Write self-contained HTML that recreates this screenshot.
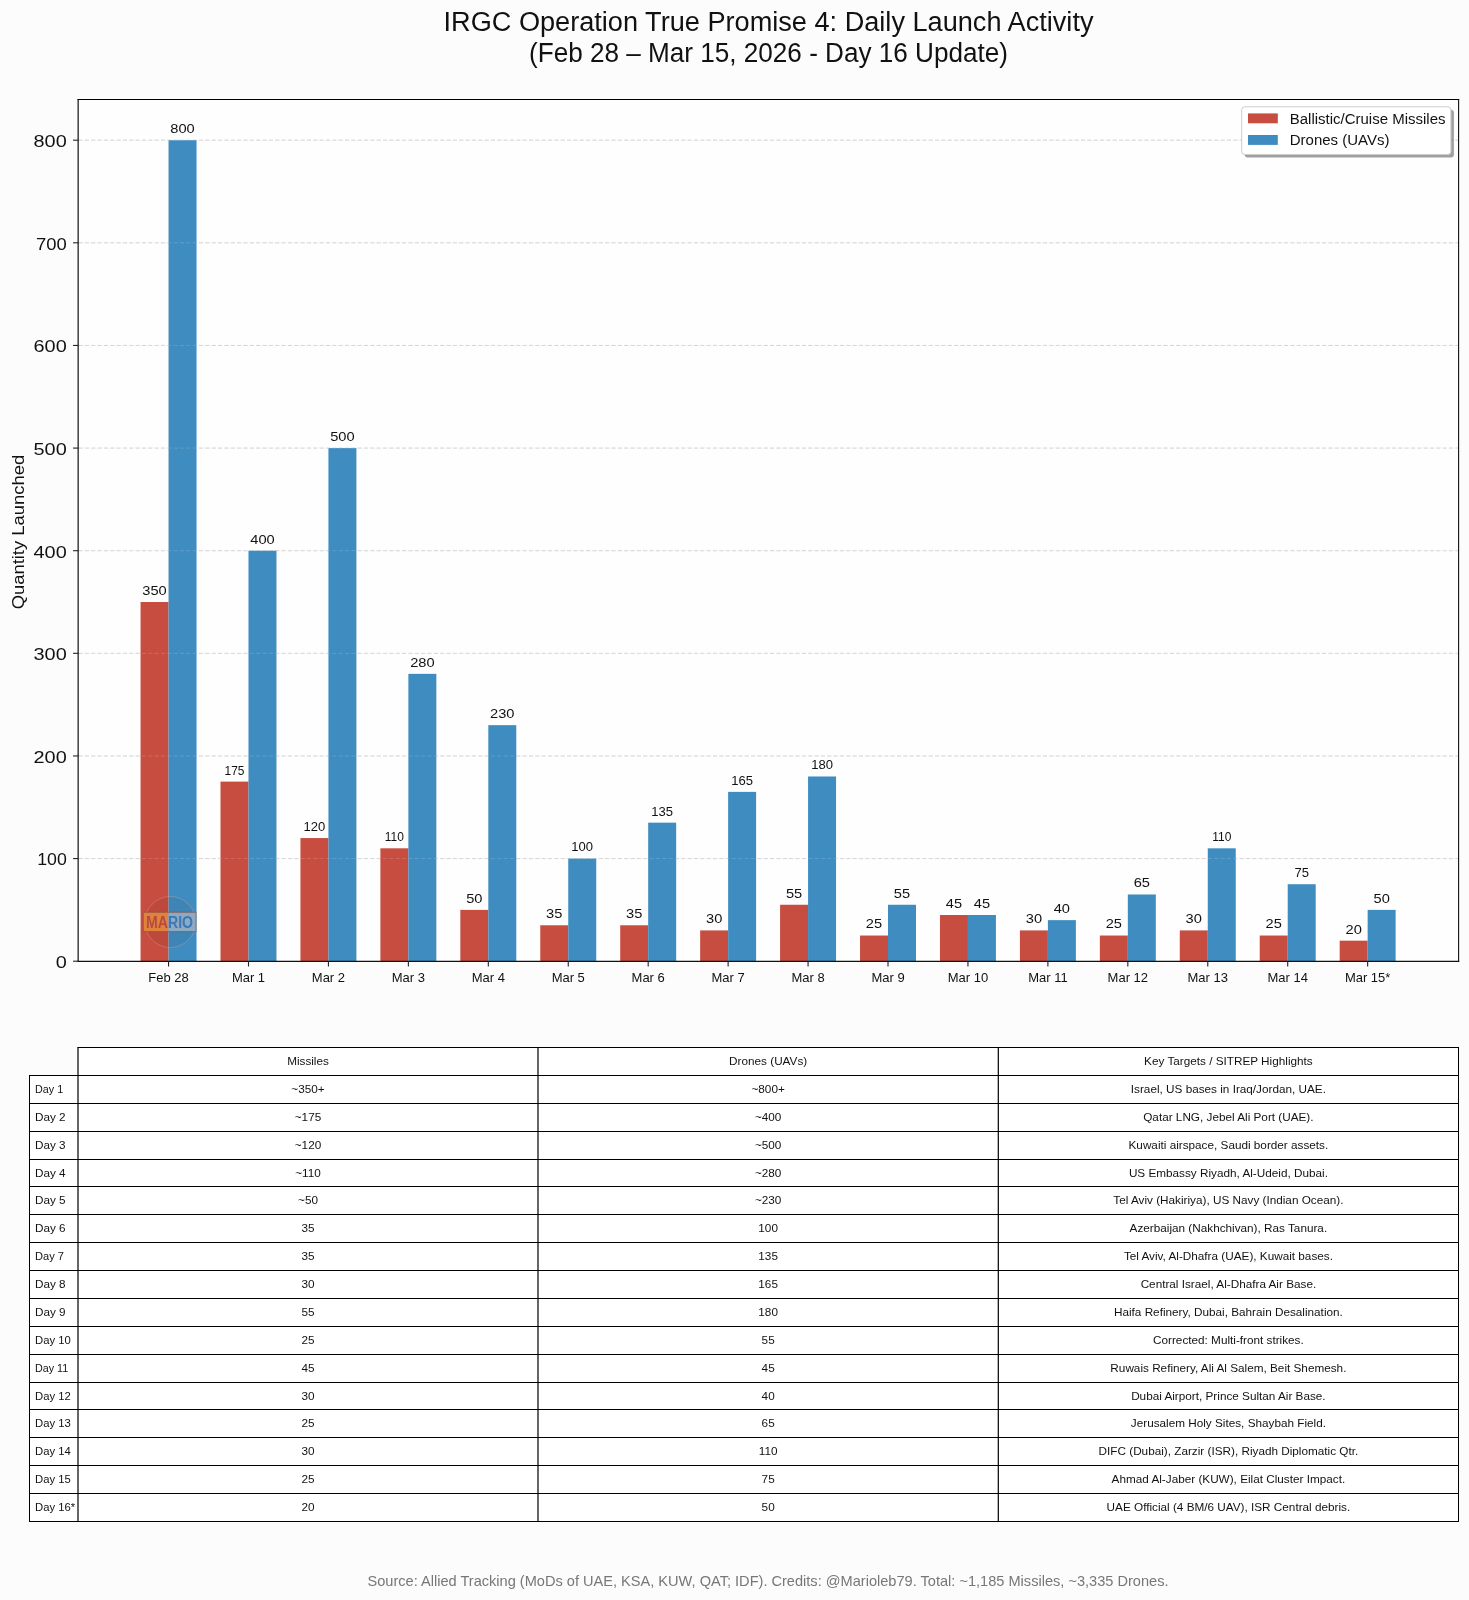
<!DOCTYPE html>
<html><head><meta charset="utf-8"><title>IRGC Operation True Promise 4: Daily Launch Activity</title><style>html,body{margin:0;padding:0;background:#fcfcfc;overflow:hidden;}svg{display:block;will-change:transform;}</style></head><body>
<svg width="1469" height="1600" viewBox="0 0 1469 1600" font-family='"Liberation Sans", "DejaVu Sans", sans-serif'>
<rect x="0" y="0" width="1469" height="1600" fill="#fcfcfc"/>
<rect x="78.35" y="99.4" width="1380.25" height="861.8000000000001" fill="#fefefe"/>
<line x1="78.44" x2="1458.6" y1="858.58" y2="858.58" stroke="#b8b8b8" stroke-opacity="0.68" stroke-width="1" stroke-dasharray="4.2,2.145"/>
<line x1="78.44" x2="1458.6" y1="755.95" y2="755.95" stroke="#b8b8b8" stroke-opacity="0.68" stroke-width="1" stroke-dasharray="4.2,2.145"/>
<line x1="78.44" x2="1458.6" y1="653.33" y2="653.33" stroke="#b8b8b8" stroke-opacity="0.68" stroke-width="1" stroke-dasharray="4.2,2.145"/>
<line x1="78.44" x2="1458.6" y1="550.70" y2="550.70" stroke="#b8b8b8" stroke-opacity="0.68" stroke-width="1" stroke-dasharray="4.2,2.145"/>
<line x1="78.44" x2="1458.6" y1="448.08" y2="448.08" stroke="#b8b8b8" stroke-opacity="0.68" stroke-width="1" stroke-dasharray="4.2,2.145"/>
<line x1="78.44" x2="1458.6" y1="345.45" y2="345.45" stroke="#b8b8b8" stroke-opacity="0.68" stroke-width="1" stroke-dasharray="4.2,2.145"/>
<line x1="78.44" x2="1458.6" y1="242.82" y2="242.82" stroke="#b8b8b8" stroke-opacity="0.68" stroke-width="1" stroke-dasharray="4.2,2.145"/>
<line x1="78.44" x2="1458.6" y1="140.20" y2="140.20" stroke="#b8b8b8" stroke-opacity="0.68" stroke-width="1" stroke-dasharray="4.2,2.145"/>
<rect x="140.57" y="602.01" width="27.98" height="359.19" fill="#c64d40"/>
<rect x="168.55" y="140.20" width="27.98" height="821.00" fill="#3e8cc0"/>
<rect x="220.51" y="781.61" width="27.98" height="179.59" fill="#c64d40"/>
<rect x="248.49" y="550.70" width="27.98" height="410.50" fill="#3e8cc0"/>
<rect x="300.45" y="838.05" width="27.98" height="123.15" fill="#c64d40"/>
<rect x="328.43" y="448.08" width="27.98" height="513.12" fill="#3e8cc0"/>
<rect x="380.39" y="848.31" width="27.98" height="112.89" fill="#c64d40"/>
<rect x="408.37" y="673.85" width="27.98" height="287.35" fill="#3e8cc0"/>
<rect x="460.33" y="909.89" width="27.98" height="51.31" fill="#c64d40"/>
<rect x="488.31" y="725.16" width="27.98" height="236.04" fill="#3e8cc0"/>
<rect x="540.27" y="925.28" width="27.98" height="35.92" fill="#c64d40"/>
<rect x="568.25" y="858.58" width="27.98" height="102.63" fill="#3e8cc0"/>
<rect x="620.21" y="925.28" width="27.98" height="35.92" fill="#c64d40"/>
<rect x="648.19" y="822.66" width="27.98" height="138.54" fill="#3e8cc0"/>
<rect x="700.15" y="930.41" width="27.98" height="30.79" fill="#c64d40"/>
<rect x="728.13" y="791.87" width="27.98" height="169.33" fill="#3e8cc0"/>
<rect x="780.09" y="904.76" width="27.98" height="56.44" fill="#c64d40"/>
<rect x="808.07" y="776.48" width="27.98" height="184.73" fill="#3e8cc0"/>
<rect x="860.03" y="935.54" width="27.98" height="25.66" fill="#c64d40"/>
<rect x="888.01" y="904.76" width="27.98" height="56.44" fill="#3e8cc0"/>
<rect x="939.97" y="915.02" width="27.98" height="46.18" fill="#c64d40"/>
<rect x="967.95" y="915.02" width="27.98" height="46.18" fill="#3e8cc0"/>
<rect x="1019.91" y="930.41" width="27.98" height="30.79" fill="#c64d40"/>
<rect x="1047.89" y="920.15" width="27.98" height="41.05" fill="#3e8cc0"/>
<rect x="1099.85" y="935.54" width="27.98" height="25.66" fill="#c64d40"/>
<rect x="1127.83" y="894.49" width="27.98" height="66.71" fill="#3e8cc0"/>
<rect x="1179.79" y="930.41" width="27.98" height="30.79" fill="#c64d40"/>
<rect x="1207.77" y="848.31" width="27.98" height="112.89" fill="#3e8cc0"/>
<rect x="1259.73" y="935.54" width="27.98" height="25.66" fill="#c64d40"/>
<rect x="1287.71" y="884.23" width="27.98" height="76.97" fill="#3e8cc0"/>
<rect x="1339.67" y="940.68" width="27.98" height="20.53" fill="#c64d40"/>
<rect x="1367.65" y="909.89" width="27.98" height="51.31" fill="#3e8cc0"/>
<line x1="78.44" x2="1458.6" y1="858.58" y2="858.58" stroke="#fff" stroke-opacity="0.16" stroke-width="1" stroke-dasharray="4.2,2.145"/>
<line x1="78.44" x2="1458.6" y1="755.95" y2="755.95" stroke="#fff" stroke-opacity="0.16" stroke-width="1" stroke-dasharray="4.2,2.145"/>
<line x1="78.44" x2="1458.6" y1="653.33" y2="653.33" stroke="#fff" stroke-opacity="0.16" stroke-width="1" stroke-dasharray="4.2,2.145"/>
<line x1="78.44" x2="1458.6" y1="550.70" y2="550.70" stroke="#fff" stroke-opacity="0.16" stroke-width="1" stroke-dasharray="4.2,2.145"/>
<line x1="78.44" x2="1458.6" y1="448.08" y2="448.08" stroke="#fff" stroke-opacity="0.16" stroke-width="1" stroke-dasharray="4.2,2.145"/>
<line x1="78.44" x2="1458.6" y1="345.45" y2="345.45" stroke="#fff" stroke-opacity="0.16" stroke-width="1" stroke-dasharray="4.2,2.145"/>
<line x1="78.44" x2="1458.6" y1="242.82" y2="242.82" stroke="#fff" stroke-opacity="0.16" stroke-width="1" stroke-dasharray="4.2,2.145"/>
<line x1="78.44" x2="1458.6" y1="140.20" y2="140.20" stroke="#fff" stroke-opacity="0.16" stroke-width="1" stroke-dasharray="4.2,2.145"/>
<g><circle cx="170.3" cy="922" r="25.5" fill="#402020" fill-opacity="0.07" stroke="#e8a0a0" stroke-opacity="0.35" stroke-width="1"/><rect x="143.3" y="912.3" width="25.0" height="19.3" fill="#e0823c"/><rect x="168.3" y="912.3" width="27.7" height="19.3" fill="#8ea9c2"/><rect x="143.3" y="912.3" width="52.7" height="19.3" fill="none" stroke="#8a4a3a" stroke-opacity="0.6" stroke-width="1"/></g>
<text x="146.1" y="927.7" font-size="16" font-weight="bold" fill="#b84a40" textLength="47" lengthAdjust="spacingAndGlyphs">MA<tspan fill="#3a78b8">RIO</tspan></text>
<text x="154.56" y="594.91" font-size="12.9" text-anchor="middle" fill="#111" textLength="24.43" lengthAdjust="spacingAndGlyphs">350</text>
<text x="182.54" y="133.10" font-size="12.9" text-anchor="middle" fill="#111" textLength="24.43" lengthAdjust="spacingAndGlyphs">800</text>
<text x="234.50" y="774.51" font-size="12.9" text-anchor="middle" fill="#111" textLength="19.95" lengthAdjust="spacingAndGlyphs">175</text>
<text x="262.48" y="543.60" font-size="12.9" text-anchor="middle" fill="#111" textLength="24.43" lengthAdjust="spacingAndGlyphs">400</text>
<text x="314.44" y="830.95" font-size="12.9" text-anchor="middle" fill="#111" textLength="21.76" lengthAdjust="spacingAndGlyphs">120</text>
<text x="342.42" y="440.98" font-size="12.9" text-anchor="middle" fill="#111" textLength="24.43" lengthAdjust="spacingAndGlyphs">500</text>
<text x="394.38" y="841.21" font-size="12.9" text-anchor="middle" fill="#111" textLength="19.09" lengthAdjust="spacingAndGlyphs">110</text>
<text x="422.36" y="666.75" font-size="12.9" text-anchor="middle" fill="#111" textLength="24.43" lengthAdjust="spacingAndGlyphs">280</text>
<text x="474.32" y="902.79" font-size="12.9" text-anchor="middle" fill="#111" textLength="16.28" lengthAdjust="spacingAndGlyphs">50</text>
<text x="502.30" y="718.06" font-size="12.9" text-anchor="middle" fill="#111" textLength="24.43" lengthAdjust="spacingAndGlyphs">230</text>
<text x="554.26" y="918.18" font-size="12.9" text-anchor="middle" fill="#111" textLength="16.28" lengthAdjust="spacingAndGlyphs">35</text>
<text x="582.24" y="851.48" font-size="12.9" text-anchor="middle" fill="#111" textLength="21.76" lengthAdjust="spacingAndGlyphs">100</text>
<text x="634.20" y="918.18" font-size="12.9" text-anchor="middle" fill="#111" textLength="16.28" lengthAdjust="spacingAndGlyphs">35</text>
<text x="662.18" y="815.56" font-size="12.9" text-anchor="middle" fill="#111" textLength="21.76" lengthAdjust="spacingAndGlyphs">135</text>
<text x="714.14" y="923.31" font-size="12.9" text-anchor="middle" fill="#111" textLength="16.28" lengthAdjust="spacingAndGlyphs">30</text>
<text x="742.12" y="784.77" font-size="12.9" text-anchor="middle" fill="#111" textLength="21.76" lengthAdjust="spacingAndGlyphs">165</text>
<text x="794.08" y="897.66" font-size="12.9" text-anchor="middle" fill="#111" textLength="16.28" lengthAdjust="spacingAndGlyphs">55</text>
<text x="822.06" y="769.38" font-size="12.9" text-anchor="middle" fill="#111" textLength="21.76" lengthAdjust="spacingAndGlyphs">180</text>
<text x="874.02" y="928.44" font-size="12.9" text-anchor="middle" fill="#111" textLength="16.28" lengthAdjust="spacingAndGlyphs">25</text>
<text x="902.00" y="897.66" font-size="12.9" text-anchor="middle" fill="#111" textLength="16.28" lengthAdjust="spacingAndGlyphs">55</text>
<text x="953.96" y="907.92" font-size="12.9" text-anchor="middle" fill="#111" textLength="16.28" lengthAdjust="spacingAndGlyphs">45</text>
<text x="981.94" y="907.92" font-size="12.9" text-anchor="middle" fill="#111" textLength="16.28" lengthAdjust="spacingAndGlyphs">45</text>
<text x="1033.90" y="923.31" font-size="12.9" text-anchor="middle" fill="#111" textLength="16.28" lengthAdjust="spacingAndGlyphs">30</text>
<text x="1061.88" y="913.05" font-size="12.9" text-anchor="middle" fill="#111" textLength="16.28" lengthAdjust="spacingAndGlyphs">40</text>
<text x="1113.84" y="928.44" font-size="12.9" text-anchor="middle" fill="#111" textLength="16.28" lengthAdjust="spacingAndGlyphs">25</text>
<text x="1141.82" y="887.39" font-size="12.9" text-anchor="middle" fill="#111" textLength="16.28" lengthAdjust="spacingAndGlyphs">65</text>
<text x="1193.78" y="923.31" font-size="12.9" text-anchor="middle" fill="#111" textLength="16.28" lengthAdjust="spacingAndGlyphs">30</text>
<text x="1221.76" y="841.21" font-size="12.9" text-anchor="middle" fill="#111" textLength="19.09" lengthAdjust="spacingAndGlyphs">110</text>
<text x="1273.72" y="928.44" font-size="12.9" text-anchor="middle" fill="#111" textLength="16.28" lengthAdjust="spacingAndGlyphs">25</text>
<text x="1301.70" y="877.13" font-size="12.9" text-anchor="middle" fill="#111" textLength="14.48" lengthAdjust="spacingAndGlyphs">75</text>
<text x="1353.66" y="933.58" font-size="12.9" text-anchor="middle" fill="#111" textLength="16.28" lengthAdjust="spacingAndGlyphs">20</text>
<text x="1381.64" y="902.79" font-size="12.9" text-anchor="middle" fill="#111" textLength="16.28" lengthAdjust="spacingAndGlyphs">50</text>
<path d="M77.6,99.5H1459.2" stroke="#000" stroke-width="1" fill="none"/>
<path d="M77.6,961.3H1459.2" stroke="#111" stroke-width="1.2" fill="none"/>
<path d="M78.15,99V961.9" stroke="#111" stroke-width="1.2" fill="none"/>
<path d="M1458.6,99V961.9" stroke="#111" stroke-width="1.1" fill="none"/>
<line x1="73.05" x2="78.35" y1="961.20" y2="961.20" stroke="#222" stroke-width="1.1"/>
<text x="66.75" y="968.10" font-size="16.3" text-anchor="end" fill="#111" textLength="11.06" lengthAdjust="spacingAndGlyphs">0</text>
<line x1="73.05" x2="78.35" y1="858.58" y2="858.58" stroke="#222" stroke-width="1.1"/>
<text x="66.75" y="865.48" font-size="16.3" text-anchor="end" fill="#111" textLength="29.55" lengthAdjust="spacingAndGlyphs">100</text>
<line x1="73.05" x2="78.35" y1="755.95" y2="755.95" stroke="#222" stroke-width="1.1"/>
<text x="66.75" y="762.85" font-size="16.3" text-anchor="end" fill="#111" textLength="33.18" lengthAdjust="spacingAndGlyphs">200</text>
<line x1="73.05" x2="78.35" y1="653.33" y2="653.33" stroke="#222" stroke-width="1.1"/>
<text x="66.75" y="660.23" font-size="16.3" text-anchor="end" fill="#111" textLength="33.18" lengthAdjust="spacingAndGlyphs">300</text>
<line x1="73.05" x2="78.35" y1="550.70" y2="550.70" stroke="#222" stroke-width="1.1"/>
<text x="66.75" y="557.60" font-size="16.3" text-anchor="end" fill="#111" textLength="33.18" lengthAdjust="spacingAndGlyphs">400</text>
<line x1="73.05" x2="78.35" y1="448.08" y2="448.08" stroke="#222" stroke-width="1.1"/>
<text x="66.75" y="454.98" font-size="16.3" text-anchor="end" fill="#111" textLength="33.18" lengthAdjust="spacingAndGlyphs">500</text>
<line x1="73.05" x2="78.35" y1="345.45" y2="345.45" stroke="#222" stroke-width="1.1"/>
<text x="66.75" y="352.35" font-size="16.3" text-anchor="end" fill="#111" textLength="33.18" lengthAdjust="spacingAndGlyphs">600</text>
<line x1="73.05" x2="78.35" y1="242.82" y2="242.82" stroke="#222" stroke-width="1.1"/>
<text x="66.75" y="249.72" font-size="16.3" text-anchor="end" fill="#111" textLength="30.73" lengthAdjust="spacingAndGlyphs">700</text>
<line x1="73.05" x2="78.35" y1="140.20" y2="140.20" stroke="#222" stroke-width="1.1"/>
<text x="66.75" y="147.10" font-size="16.3" text-anchor="end" fill="#111" textLength="33.18" lengthAdjust="spacingAndGlyphs">800</text>
<line x1="168.55" x2="168.55" y1="961.2" y2="966.5" stroke="#222" stroke-width="1.1"/>
<text x="168.55" y="981.8" font-size="13.5" text-anchor="middle" fill="#111" textLength="40.47" lengthAdjust="spacingAndGlyphs">Feb 28</text>
<line x1="248.49" x2="248.49" y1="961.2" y2="966.5" stroke="#222" stroke-width="1.1"/>
<text x="248.49" y="981.8" font-size="13.5" text-anchor="middle" fill="#111" textLength="33.23" lengthAdjust="spacingAndGlyphs">Mar 1</text>
<line x1="328.43" x2="328.43" y1="961.2" y2="966.5" stroke="#222" stroke-width="1.1"/>
<text x="328.43" y="981.8" font-size="13.5" text-anchor="middle" fill="#111" textLength="33.23" lengthAdjust="spacingAndGlyphs">Mar 2</text>
<line x1="408.37" x2="408.37" y1="961.2" y2="966.5" stroke="#222" stroke-width="1.1"/>
<text x="408.37" y="981.8" font-size="13.5" text-anchor="middle" fill="#111" textLength="33.23" lengthAdjust="spacingAndGlyphs">Mar 3</text>
<line x1="488.31" x2="488.31" y1="961.2" y2="966.5" stroke="#222" stroke-width="1.1"/>
<text x="488.31" y="981.8" font-size="13.5" text-anchor="middle" fill="#111" textLength="33.23" lengthAdjust="spacingAndGlyphs">Mar 4</text>
<line x1="568.25" x2="568.25" y1="961.2" y2="966.5" stroke="#222" stroke-width="1.1"/>
<text x="568.25" y="981.8" font-size="13.5" text-anchor="middle" fill="#111" textLength="33.23" lengthAdjust="spacingAndGlyphs">Mar 5</text>
<line x1="648.19" x2="648.19" y1="961.2" y2="966.5" stroke="#222" stroke-width="1.1"/>
<text x="648.19" y="981.8" font-size="13.5" text-anchor="middle" fill="#111" textLength="33.23" lengthAdjust="spacingAndGlyphs">Mar 6</text>
<line x1="728.13" x2="728.13" y1="961.2" y2="966.5" stroke="#222" stroke-width="1.1"/>
<text x="728.13" y="981.8" font-size="13.5" text-anchor="middle" fill="#111" textLength="33.23" lengthAdjust="spacingAndGlyphs">Mar 7</text>
<line x1="808.07" x2="808.07" y1="961.2" y2="966.5" stroke="#222" stroke-width="1.1"/>
<text x="808.07" y="981.8" font-size="13.5" text-anchor="middle" fill="#111" textLength="33.23" lengthAdjust="spacingAndGlyphs">Mar 8</text>
<line x1="888.01" x2="888.01" y1="961.2" y2="966.5" stroke="#222" stroke-width="1.1"/>
<text x="888.01" y="981.8" font-size="13.5" text-anchor="middle" fill="#111" textLength="33.23" lengthAdjust="spacingAndGlyphs">Mar 9</text>
<line x1="967.95" x2="967.95" y1="961.2" y2="966.5" stroke="#222" stroke-width="1.1"/>
<text x="967.95" y="981.8" font-size="13.5" text-anchor="middle" fill="#111" textLength="40.46" lengthAdjust="spacingAndGlyphs">Mar 10</text>
<line x1="1047.89" x2="1047.89" y1="961.2" y2="966.5" stroke="#222" stroke-width="1.1"/>
<text x="1047.89" y="981.8" font-size="13.5" text-anchor="middle" fill="#111" textLength="39.50" lengthAdjust="spacingAndGlyphs">Mar 11</text>
<line x1="1127.83" x2="1127.83" y1="961.2" y2="966.5" stroke="#222" stroke-width="1.1"/>
<text x="1127.83" y="981.8" font-size="13.5" text-anchor="middle" fill="#111" textLength="40.46" lengthAdjust="spacingAndGlyphs">Mar 12</text>
<line x1="1207.77" x2="1207.77" y1="961.2" y2="966.5" stroke="#222" stroke-width="1.1"/>
<text x="1207.77" y="981.8" font-size="13.5" text-anchor="middle" fill="#111" textLength="40.46" lengthAdjust="spacingAndGlyphs">Mar 13</text>
<line x1="1287.71" x2="1287.71" y1="961.2" y2="966.5" stroke="#222" stroke-width="1.1"/>
<text x="1287.71" y="981.8" font-size="13.5" text-anchor="middle" fill="#111" textLength="40.46" lengthAdjust="spacingAndGlyphs">Mar 14</text>
<line x1="1367.65" x2="1367.65" y1="961.2" y2="966.5" stroke="#222" stroke-width="1.1"/>
<text x="1367.65" y="981.8" font-size="13.5" text-anchor="middle" fill="#111" textLength="45.52" lengthAdjust="spacingAndGlyphs">Mar 15*</text>
<text transform="translate(24.2,532.1) rotate(-90)" font-size="17" text-anchor="middle" fill="#111" textLength="154.5" lengthAdjust="spacingAndGlyphs">Quantity Launched</text>
<text x="768.5" y="31" font-size="26.8" text-anchor="middle" fill="#111" textLength="650" lengthAdjust="spacingAndGlyphs">IRGC Operation True Promise 4: Daily Launch Activity</text>
<text x="768.5" y="62" font-size="26.8" text-anchor="middle" fill="#111" textLength="479" lengthAdjust="spacingAndGlyphs">(Feb 28 – Mar 15, 2026 - Day 16 Update)</text>
<rect x="1244.7" y="109.8" width="209.20000000000005" height="47.7" rx="3" fill="#777" fill-opacity="0.7"/>
<rect x="1241.7" y="106.8" width="209.20000000000005" height="47.7" rx="3" fill="#fff" stroke="#ccc" stroke-width="1"/>
<rect x="1248" y="113.4" width="29.8" height="9.9" fill="#c64d40"/>
<rect x="1248" y="135" width="29.8" height="9.9" fill="#3e8cc0"/>
<text x="1289.8" y="123.5" font-size="14" fill="#111" textLength="155.65" lengthAdjust="spacingAndGlyphs">Ballistic/Cruise Missiles</text>
<text x="1289.8" y="144.9" font-size="14" fill="#111" textLength="99.61" lengthAdjust="spacingAndGlyphs">Drones (UAVs)</text>
<rect x="78.0" y="1047.5" width="1380.5" height="28.0" fill="#fff"/>
<rect x="29.5" y="1075.5" width="1429.0" height="446.0" fill="#fff"/>
<path d="M77.4,1047.5H1459.0M29.0,1075.5H1459.0M29.0,1103.5H1459.0M29.0,1131.5H1459.0M29.0,1159.5H1459.0M29.0,1186.5H1459.0M29.0,1214.5H1459.0M29.0,1242.5H1459.0M29.0,1270.5H1459.0M29.0,1298.5H1459.0M29.0,1326.5H1459.0M29.0,1354.5H1459.0M29.0,1382.5H1459.0M29.0,1409.5H1459.0M29.0,1437.5H1459.0M29.0,1465.5H1459.0M29.0,1493.5H1459.0M29.0,1521.5H1459.0" stroke="#000" stroke-width="1" fill="none"/>
<path d="M29.5,1075.5V1521.5M1458.5,1047.5V1521.5" stroke="#000" stroke-width="1" fill="none"/>
<path d="M78.0,1047.5V1521.5M538.0,1047.5V1521.5M998.3,1047.5V1521.5" stroke="#000" stroke-width="1.2" fill="none"/>
<text x="308.00" y="1065.20" font-size="11.4" text-anchor="middle" fill="#111" textLength="41.75" lengthAdjust="spacingAndGlyphs">Missiles</text>
<text x="768.15" y="1065.20" font-size="11.4" text-anchor="middle" fill="#111" textLength="78.08" lengthAdjust="spacingAndGlyphs">Drones (UAVs)</text>
<text x="1228.40" y="1065.20" font-size="11.4" text-anchor="middle" fill="#111" textLength="168.60" lengthAdjust="spacingAndGlyphs">Key Targets / SITREP Highlights</text>
<text x="35.0" y="1093.20" font-size="11.4" fill="#111" textLength="28.14" lengthAdjust="spacingAndGlyphs">Day 1</text>
<text x="308.00" y="1093.20" font-size="11.4" text-anchor="middle" fill="#111" textLength="33.31" lengthAdjust="spacingAndGlyphs">~350+</text>
<text x="768.15" y="1093.20" font-size="11.4" text-anchor="middle" fill="#111" textLength="33.31" lengthAdjust="spacingAndGlyphs">~800+</text>
<text x="1228.40" y="1093.20" font-size="11.4" text-anchor="middle" fill="#111" textLength="195.14" lengthAdjust="spacingAndGlyphs">Israel, US bases in Iraq/Jordan, UAE.</text>
<text x="35.0" y="1121.20" font-size="11.4" fill="#111" textLength="30.63" lengthAdjust="spacingAndGlyphs">Day 2</text>
<text x="308.00" y="1121.20" font-size="11.4" text-anchor="middle" fill="#111" textLength="26.45" lengthAdjust="spacingAndGlyphs">~175</text>
<text x="768.15" y="1121.20" font-size="11.4" text-anchor="middle" fill="#111" textLength="26.45" lengthAdjust="spacingAndGlyphs">~400</text>
<text x="1228.40" y="1121.20" font-size="11.4" text-anchor="middle" fill="#111" textLength="170.32" lengthAdjust="spacingAndGlyphs">Qatar LNG, Jebel Ali Port (UAE).</text>
<text x="35.0" y="1149.20" font-size="11.4" fill="#111" textLength="30.63" lengthAdjust="spacingAndGlyphs">Day 3</text>
<text x="308.00" y="1149.20" font-size="11.4" text-anchor="middle" fill="#111" textLength="26.45" lengthAdjust="spacingAndGlyphs">~120</text>
<text x="768.15" y="1149.20" font-size="11.4" text-anchor="middle" fill="#111" textLength="26.45" lengthAdjust="spacingAndGlyphs">~500</text>
<text x="1228.40" y="1149.20" font-size="11.4" text-anchor="middle" fill="#111" textLength="199.72" lengthAdjust="spacingAndGlyphs">Kuwaiti airspace, Saudi border assets.</text>
<text x="35.0" y="1176.70" font-size="11.4" fill="#111" textLength="30.63" lengthAdjust="spacingAndGlyphs">Day 4</text>
<text x="308.00" y="1176.70" font-size="11.4" text-anchor="middle" fill="#111" textLength="25.58" lengthAdjust="spacingAndGlyphs">~110</text>
<text x="768.15" y="1176.70" font-size="11.4" text-anchor="middle" fill="#111" textLength="26.45" lengthAdjust="spacingAndGlyphs">~280</text>
<text x="1228.40" y="1176.70" font-size="11.4" text-anchor="middle" fill="#111" textLength="199.05" lengthAdjust="spacingAndGlyphs">US Embassy Riyadh, Al-Udeid, Dubai.</text>
<text x="35.0" y="1204.20" font-size="11.4" fill="#111" textLength="30.63" lengthAdjust="spacingAndGlyphs">Day 5</text>
<text x="308.00" y="1204.20" font-size="11.4" text-anchor="middle" fill="#111" textLength="19.92" lengthAdjust="spacingAndGlyphs">~50</text>
<text x="768.15" y="1204.20" font-size="11.4" text-anchor="middle" fill="#111" textLength="26.45" lengthAdjust="spacingAndGlyphs">~230</text>
<text x="1228.40" y="1204.20" font-size="11.4" text-anchor="middle" fill="#111" textLength="230.13" lengthAdjust="spacingAndGlyphs">Tel Aviv (Hakiriya), US Navy (Indian Ocean).</text>
<text x="35.0" y="1232.20" font-size="11.4" fill="#111" textLength="30.63" lengthAdjust="spacingAndGlyphs">Day 6</text>
<text x="308.00" y="1232.20" font-size="11.4" text-anchor="middle" fill="#111" textLength="13.06" lengthAdjust="spacingAndGlyphs">35</text>
<text x="768.15" y="1232.20" font-size="11.4" text-anchor="middle" fill="#111" textLength="19.59" lengthAdjust="spacingAndGlyphs">100</text>
<text x="1228.40" y="1232.20" font-size="11.4" text-anchor="middle" fill="#111" textLength="197.54" lengthAdjust="spacingAndGlyphs">Azerbaijan (Nakhchivan), Ras Tanura.</text>
<text x="35.0" y="1260.20" font-size="11.4" fill="#111" textLength="28.95" lengthAdjust="spacingAndGlyphs">Day 7</text>
<text x="308.00" y="1260.20" font-size="11.4" text-anchor="middle" fill="#111" textLength="13.06" lengthAdjust="spacingAndGlyphs">35</text>
<text x="768.15" y="1260.20" font-size="11.4" text-anchor="middle" fill="#111" textLength="19.59" lengthAdjust="spacingAndGlyphs">135</text>
<text x="1228.40" y="1260.20" font-size="11.4" text-anchor="middle" fill="#111" textLength="209.05" lengthAdjust="spacingAndGlyphs">Tel Aviv, Al-Dhafra (UAE), Kuwait bases.</text>
<text x="35.0" y="1288.20" font-size="11.4" fill="#111" textLength="30.63" lengthAdjust="spacingAndGlyphs">Day 8</text>
<text x="308.00" y="1288.20" font-size="11.4" text-anchor="middle" fill="#111" textLength="13.06" lengthAdjust="spacingAndGlyphs">30</text>
<text x="768.15" y="1288.20" font-size="11.4" text-anchor="middle" fill="#111" textLength="19.59" lengthAdjust="spacingAndGlyphs">165</text>
<text x="1228.40" y="1288.20" font-size="11.4" text-anchor="middle" fill="#111" textLength="175.55" lengthAdjust="spacingAndGlyphs">Central Israel, Al-Dhafra Air Base.</text>
<text x="35.0" y="1316.20" font-size="11.4" fill="#111" textLength="30.63" lengthAdjust="spacingAndGlyphs">Day 9</text>
<text x="308.00" y="1316.20" font-size="11.4" text-anchor="middle" fill="#111" textLength="13.06" lengthAdjust="spacingAndGlyphs">55</text>
<text x="768.15" y="1316.20" font-size="11.4" text-anchor="middle" fill="#111" textLength="19.59" lengthAdjust="spacingAndGlyphs">180</text>
<text x="1228.40" y="1316.20" font-size="11.4" text-anchor="middle" fill="#111" textLength="228.87" lengthAdjust="spacingAndGlyphs">Haifa Refinery, Dubai, Bahrain Desalination.</text>
<text x="35.0" y="1344.20" font-size="11.4" fill="#111" textLength="35.74" lengthAdjust="spacingAndGlyphs">Day 10</text>
<text x="308.00" y="1344.20" font-size="11.4" text-anchor="middle" fill="#111" textLength="13.06" lengthAdjust="spacingAndGlyphs">25</text>
<text x="768.15" y="1344.20" font-size="11.4" text-anchor="middle" fill="#111" textLength="13.06" lengthAdjust="spacingAndGlyphs">55</text>
<text x="1228.40" y="1344.20" font-size="11.4" text-anchor="middle" fill="#111" textLength="150.73" lengthAdjust="spacingAndGlyphs">Corrected: Multi-front strikes.</text>
<text x="35.0" y="1372.20" font-size="11.4" fill="#111" textLength="33.24" lengthAdjust="spacingAndGlyphs">Day 11</text>
<text x="308.00" y="1372.20" font-size="11.4" text-anchor="middle" fill="#111" textLength="13.06" lengthAdjust="spacingAndGlyphs">45</text>
<text x="768.15" y="1372.20" font-size="11.4" text-anchor="middle" fill="#111" textLength="13.06" lengthAdjust="spacingAndGlyphs">45</text>
<text x="1228.40" y="1372.20" font-size="11.4" text-anchor="middle" fill="#111" textLength="236.03" lengthAdjust="spacingAndGlyphs">Ruwais Refinery, Ali Al Salem, Beit Shemesh.</text>
<text x="35.0" y="1399.70" font-size="11.4" fill="#111" textLength="35.74" lengthAdjust="spacingAndGlyphs">Day 12</text>
<text x="308.00" y="1399.70" font-size="11.4" text-anchor="middle" fill="#111" textLength="13.06" lengthAdjust="spacingAndGlyphs">30</text>
<text x="768.15" y="1399.70" font-size="11.4" text-anchor="middle" fill="#111" textLength="13.06" lengthAdjust="spacingAndGlyphs">40</text>
<text x="1228.40" y="1399.70" font-size="11.4" text-anchor="middle" fill="#111" textLength="194.50" lengthAdjust="spacingAndGlyphs">Dubai Airport, Prince Sultan Air Base.</text>
<text x="35.0" y="1427.20" font-size="11.4" fill="#111" textLength="35.74" lengthAdjust="spacingAndGlyphs">Day 13</text>
<text x="308.00" y="1427.20" font-size="11.4" text-anchor="middle" fill="#111" textLength="13.06" lengthAdjust="spacingAndGlyphs">25</text>
<text x="768.15" y="1427.20" font-size="11.4" text-anchor="middle" fill="#111" textLength="13.06" lengthAdjust="spacingAndGlyphs">65</text>
<text x="1228.40" y="1427.20" font-size="11.4" text-anchor="middle" fill="#111" textLength="195.14" lengthAdjust="spacingAndGlyphs">Jerusalem Holy Sites, Shaybah Field.</text>
<text x="35.0" y="1455.20" font-size="11.4" fill="#111" textLength="35.74" lengthAdjust="spacingAndGlyphs">Day 14</text>
<text x="308.00" y="1455.20" font-size="11.4" text-anchor="middle" fill="#111" textLength="13.06" lengthAdjust="spacingAndGlyphs">30</text>
<text x="768.15" y="1455.20" font-size="11.4" text-anchor="middle" fill="#111" textLength="18.72" lengthAdjust="spacingAndGlyphs">110</text>
<text x="1228.40" y="1455.20" font-size="11.4" text-anchor="middle" fill="#111" textLength="259.67" lengthAdjust="spacingAndGlyphs">DIFC (Dubai), Zarzir (ISR), Riyadh Diplomatic Qtr.</text>
<text x="35.0" y="1483.20" font-size="11.4" fill="#111" textLength="35.74" lengthAdjust="spacingAndGlyphs">Day 15</text>
<text x="308.00" y="1483.20" font-size="11.4" text-anchor="middle" fill="#111" textLength="13.06" lengthAdjust="spacingAndGlyphs">25</text>
<text x="768.15" y="1483.20" font-size="11.4" text-anchor="middle" fill="#111" textLength="13.06" lengthAdjust="spacingAndGlyphs">75</text>
<text x="1228.40" y="1483.20" font-size="11.4" text-anchor="middle" fill="#111" textLength="233.60" lengthAdjust="spacingAndGlyphs">Ahmad Al-Jaber (KUW), Eilat Cluster Impact.</text>
<text x="35.0" y="1511.20" font-size="11.4" fill="#111" textLength="40.09" lengthAdjust="spacingAndGlyphs">Day 16*</text>
<text x="308.00" y="1511.20" font-size="11.4" text-anchor="middle" fill="#111" textLength="13.06" lengthAdjust="spacingAndGlyphs">20</text>
<text x="768.15" y="1511.20" font-size="11.4" text-anchor="middle" fill="#111" textLength="13.06" lengthAdjust="spacingAndGlyphs">50</text>
<text x="1228.40" y="1511.20" font-size="11.4" text-anchor="middle" fill="#111" textLength="243.61" lengthAdjust="spacingAndGlyphs">UAE Official (4 BM/6 UAV), ISR Central debris.</text>
<text x="768" y="1586.4" font-size="14.6" text-anchor="middle" fill="#777" textLength="801" lengthAdjust="spacingAndGlyphs">Source: Allied Tracking (MoDs of UAE, KSA, KUW, QAT; IDF). Credits: @Marioleb79. Total: ~1,185 Missiles, ~3,335 Drones.</text>
</svg>
</body></html>
